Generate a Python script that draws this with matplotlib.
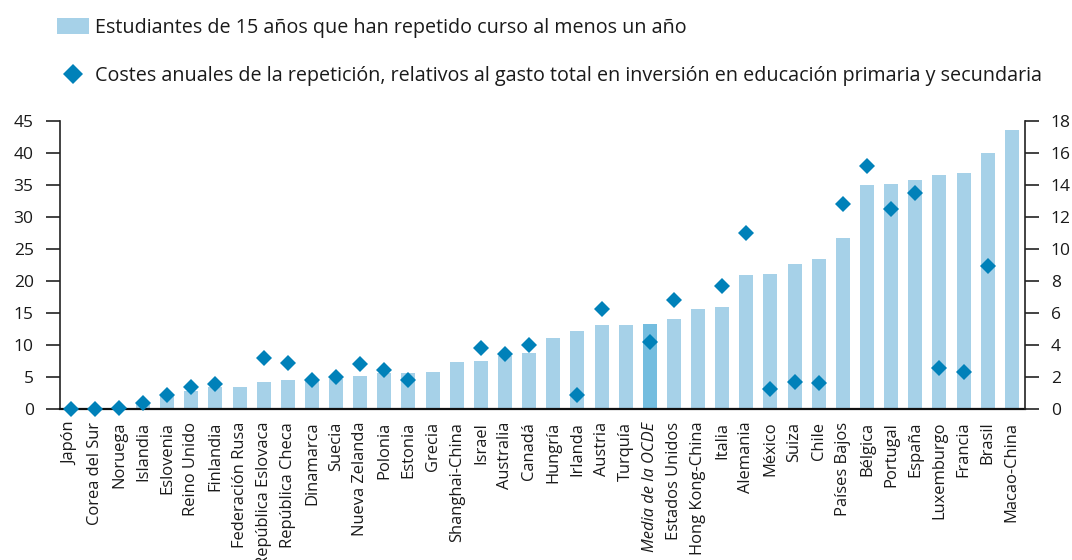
import matplotlib
matplotlib.use("Agg")
import matplotlib.pyplot as plt
from matplotlib.patches import Patch
from matplotlib.lines import Line2D
import numpy as np

#############################################
# Data
#############################################
paises = [
    "Japón", "Corea del Sur", "Noruega", "Islandia", "Eslovenia", "Reino Unido",
    "Finlandia", "Federación Rusa", "República Eslovaca", "República Checa",
    "Dinamarca", "Suecia", "Nueva Zelanda", "Polonia", "Estonia", "Grecia",
    "Shanghai-China", "Israel", "Australia", "Canadá", "Hungría", "Irlanda",
    "Austria", "Turquía", "Media de la OCDE", "Estados Unidos", "Hong Kong-China",
    "Italia", "Alemania", "México", "Suiza", "Chile", "Países Bajos", "Bélgica",
    "Portugal", "España", "Luxemburgo", "Francia", "Brasil", "Macao-China",
]

# % of 15-year-olds who repeated a grade at least once (left axis)
repetidores = [
    0.0, 0.0, 0.0, 1.0, 2.3, 2.9,
    3.5, 3.5, 4.3, 4.6,
    4.4, 4.8, 5.2, 5.6, 5.7, 5.8,
    7.4, 7.5, 8.3, 8.8, 11.1, 12.2,
    13.2, 13.2, 13.3, 14.1, 15.7,
    16.0, 21.0, 21.1, 22.7, 23.5, 26.7, 35.0,
    35.2, 35.8, 36.6, 36.9, 40.0, 43.6,
]

# annual cost of repetition, % of total spending (right axis); None = no data
costes = [
    0.0, 0.0, 0.1, 0.4, 0.9, 1.4,
    1.6, None, 3.2, 2.9,
    1.8, 2.0, 2.8, 2.45, 1.8, None,
    None, 3.8, 3.45, 4.0, None, 0.9,
    6.25, None, 4.2, 6.85, None,
    7.7, 11.0, 1.3, 1.7, 1.65, 12.8, 15.2,
    12.5, 13.5, 2.6, 2.35, 8.95, None,
]

ley_barras = "Estudiantes de 15 años que han repetido curso al menos un año"
ley_rombos = ("Costes anuales de la repetición, relativos al gasto total en inversión "
              "en educación primaria y secundaria")

#############################################
# Style
#############################################
plt.rcParams["font.family"] = ["Open Sans", "DejaVu Sans"]
c_barra = "#a6d1e8"
c_media = "#74bddf"
c_rombo = "#0081b9"
c_texto = "#1a1a1a"
c_eje = "#222222"

fig = plt.figure(figsize=(10.72, 5.6), dpi=100)
ax = fig.add_axes([0.056, 0.269, 0.9002, 0.5155])
ax2 = ax.twinx()

x = np.arange(len(paises))
colores = [c_media if p == "Media de la OCDE" else c_barra for p in paises]
ax.bar(x, repetidores, width=0.58, color=colores, zorder=2)

xc = [xi for xi, v in zip(x, costes) if v is not None]
yc = [v for v in costes if v is not None]
ax2.plot(xc, yc, linestyle="none", marker="D", markersize=8.6,
         markeredgewidth=0, color=c_rombo, clip_on=False, zorder=5)

# axes limits / ticks
ax.set_xlim(-0.44, len(paises) - 0.45)
ax.set_ylim(0, 45)
ax2.set_ylim(0, 18)
ax.set_yticks(np.arange(0, 46, 5))
ax2.set_yticks(np.arange(0, 19, 2))

ax.set_xticks(x)
ax.set_xticklabels(paises, rotation=90, fontsize=11.9, color=c_texto)
for lbl in ax.get_xticklabels():
    if lbl.get_text() == "Media de la OCDE":
        lbl.set_fontstyle("italic")

ax.tick_params(axis="x", length=0, pad=9)
ax.tick_params(axis="y", length=10, width=1.2, color=c_eje, pad=9,
               labelsize=12.5, labelcolor=c_texto)
ax2.tick_params(axis="y", length=10, width=1.2, color=c_eje, pad=8.5,
                labelsize=12.5, labelcolor=c_texto)

for a in (ax, ax2):
    a.spines["top"].set_visible(False)
    a.patch.set_visible(False)
ax.spines["right"].set_visible(False)
ax2.spines["left"].set_visible(False)
ax2.spines["bottom"].set_visible(False)
ax.spines["left"].set_color(c_eje)
ax.spines["left"].set_linewidth(1.2)
ax.spines["bottom"].set_color("#111111")
ax.spines["bottom"].set_linewidth(1.6)
ax.spines["bottom"].set_zorder(3)
ax2.spines["right"].set_color(c_eje)
ax2.spines["right"].set_linewidth(1.2)

#----------------------
# Legend (two rows)
#----------------------
handles = [
    Patch(facecolor=c_barra, edgecolor="none"),
    Line2D([], [], linestyle="none", marker="D", markersize=10,
           markeredgewidth=0, color=c_rombo),
]
fig.legend(handles, [ley_barras, ley_rombos], loc="upper left",
           bbox_to_anchor=(0.037, 1.0), frameon=False, fontsize=14.2,
           labelspacing=1.45, handlelength=1.62, handleheight=0.86,
           handletextpad=0.3, labelcolor=c_texto)

fig.savefig("out.png", dpi=100)
